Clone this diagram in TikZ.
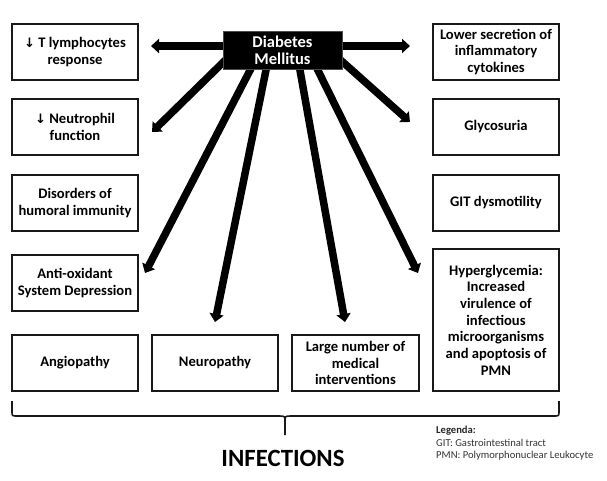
\documentclass[tikz,border=0pt]{standalone}
\usepackage{fontspec}
\setmainfont{Carlito}
\newfontfamily\symfont{DejaVu Sans}
\usetikzlibrary{arrows.meta,calc}
\newcommand{\dnarr}{{\symfont\bfseries\fontsize{13}{13}\selectfont ↓}}
\begin{document}
\begin{tikzpicture}[x=1pt,y=-1pt,
  box/.style={draw=black!90,line width=1.5pt,minimum width=126pt,minimum height=56pt,
    align=center,font=\fontsize{14.6}{16.7}\selectfont\bfseries,inner sep=1pt},
  dmbox/.style={fill=black,draw=black!70,line width=1pt,minimum width=119pt,minimum height=38pt,
    align=center,text=white,font=\fontsize{16.5}{17}\selectfont\bfseries,inner sep=1pt},
  arr/.style={line width=7.5pt,-{Triangle[length=8pt,width=14pt]}},
  brace/.style={line width=1.6pt,black!90},
  legend/.style={font=\fontsize{10.6}{12}\selectfont,text=black!80,inner sep=0pt,anchor=base west},
]
\useasboundingbox (0,0) rectangle (607,480);

% left column
\node[box] (tl) at (75,52) {\dnarr\ T lymphocytes\\response};
\node[box] (nf) at (75,127) {\dnarr\ Neutrophil\\function};
\node[box] (hi) at (75,203) {Disorders of\\humoral immunity};
\node[box] (ao) at (75,283) {Anti-oxidant\\System Depression};
% bottom row
\node[box] (an) at (75,363) {Angiopathy};
\node[box] (ne) at (215,363) {Neuropathy};
\node[box,minimum width=127pt] (lm) at (355.5,363) {Large number of\\medical\\interventions};
% right column
\node[box] (ls) at (496,52) {Lower secretion of\\inflammatory\\cytokines};
\node[box] (gl) at (496,127) {Glycosuria};
\node[box] (gd) at (496,203) {GIT dysmotility};
\node[box,minimum height=142pt] (hg) at (496,320) {Hyperglycemia:\\Increased\\virulence of\\infectious\\microorganisms\\and apoptosis of\\PMN};

% central node
\node[dmbox] (dm) at (282.5,50) {Diabetes\\Mellitus};

% arrow tips
\coordinate (t1) at (151,46);
\coordinate (t2) at (410,46);
\coordinate (t3) at (152,132);
\coordinate (t4) at (410,122);
\coordinate (t5) at (145,273);
\coordinate (t6) at (215,322);
\coordinate (t7) at (345,322);
\coordinate (t8) at (418,273);

\draw[arr] ($(dm.west)+(1,-4)$) -- (t1);
\draw[arr] ($(dm.east)+(-1,-4)$) -- (t2);
\draw[arr] ($(dm.west)+(3,10)$) -- (t3);
\draw[arr] ($(dm.east)+(-2,10)$) -- (t4);
\draw[arr] ($(dm.south west)+(29,-2)$) -- (t5);
\draw[arr] ($(dm.south west)+(44,-2)$) -- (t6);
\draw[arr] ($(dm.south west)+(77,-2)$) -- (t7);
\draw[arr] ($(dm.south west)+(94,-2)$) -- (t8);
\node[dmbox] at (dm) {Diabetes\\Mellitus};

% brace
\draw[brace] (12,401) -- (12,411) .. controls (12,416) .. (17,416) -- (279,416)
  .. controls (285,416) .. (285,422) -- (285,435);
\draw[brace] (285,422) .. controls (285,416) .. (291,416) -- (554,416)
  .. controls (559,416) .. (559,411) -- (559,401);

\node[font=\fontsize{24.8}{25}\selectfont\bfseries,anchor=base,inner sep=0pt] (inf) at (283,466) {INFECTIONS};

\node[legend,font=\fontsize{10.6}{12}\selectfont\bfseries,text=black!85] (lg) at (436,433) {Legenda:};
\node[legend] (lg1) at (436,446) {GIT: Gastrointestinal tract};
\node[legend] (lg2) at (436,458.5) {PMN: Polymorphonuclear Leukocyte};
\end{tikzpicture}
\end{document}
